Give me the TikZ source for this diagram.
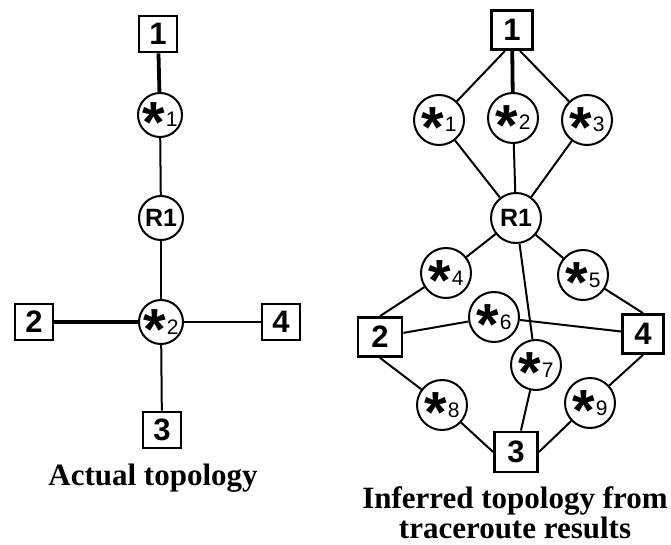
\documentclass[tikz,border=0pt]{standalone}
\usepackage{fontspec}
\setmainfont{Liberation Serif}
\newfontfamily\arialf{Liberation Sans}
\tikzset{
  box/.style={draw, line width=2.8pt, fill=white, inner sep=0pt, minimum width=38pt, minimum height=36pt, font=\arialf\bfseries\fontsize{31}{31}\selectfont},
  bigbox/.style={box, minimum width=41pt, minimum height=39pt},
  hop/.style={draw, circle, line width=2pt, fill=white, inner sep=0pt, minimum size=44pt},
  bighop/.style={hop, minimum size=50pt},
  link/.style={line width=2pt},
  thick link/.style={line width=3.8pt},
  mid link/.style={line width=2.8pt},
  caption/.style={font=\bfseries\fontsize{31}{30}\selectfont, align=center, inner sep=0pt}
}
\newcommand{\anon}[1]{\smash{\arialf\bfseries\fontsize{58}{58}\selectfont\raisebox{-0.48em}{*}}\kern1pt\smash{\raisebox{-12pt}{\arialf\fontsize{21}{21}\selectfont #1}}}
\newcommand{\rtr}{\arialf\bfseries\fontsize{25}{25}\selectfont R1}
\begin{document}
\begin{tikzpicture}[x=1pt,y=-1pt]
\useasboundingbox (0,0) rectangle (671,545);
% ---------- left: actual topology ----------
\node[hop] (s1L) at (160,115) {\anon{1}};
\node[hop] (r1L) at (161,218) {\rtr};
\node[hop] (s2L) at (161,322) {\anon{2}};
\node[box] (b1L) at (158,34) {1};
\node[box] (b2L) at (34,322) {2};
\node[box] (b4L) at (281,322) {4};
\node[box] (b3L) at (162,430) {3};
\draw[thick link] (b1L) -- (s1L);
\draw[link] (s1L) -- (r1L);
\draw[link] (r1L) -- (s2L);
\draw[thick link] (b2L) -- (s2L);
\draw[mid link] (s2L) -- (b4L);
\draw[link] (s2L) -- (b3L);
\node[caption, anchor=base] (capL) at (153,485) {Actual topology};
% ---------- right: inferred topology ----------
\node[bighop] (s1R) at (439,120) {\anon{1}};
\node[bighop] (s2R) at (513,118) {\anon{2}};
\node[bighop] (s3R) at (587,120) {\anon{3}};
\node[bighop] (r1R) at (516,218) {\rtr};
\node[bighop] (s4R) at (446,273) {\anon{4}};
\node[bighop] (s5R) at (583,275) {\anon{5}};
\node[bighop] (s6R) at (494,317) {\anon{6}};
\node[bighop] (s7R) at (536,365) {\anon{7}};
\node[bighop] (s8R) at (442,405) {\anon{8}};
\node[bighop] (s9R) at (590,403) {\anon{9}};
\node[bigbox] (b1R) at (512,30) {1};
\node[bigbox, minimum width=44pt] (b2R) at (380,337) {2};
\node[bigbox] (b4R) at (643,334) {4};
\node[bigbox, minimum width=43pt, minimum height=40pt] (b3R) at (516,452) {3};
\draw[link] ([xshift=-7pt]b1R.south) -- (s1R);
\draw[thick link] (b1R) -- (s2R);
\draw[link] ([xshift=8pt]b1R.south) -- (s3R);
\draw[link] (s1R) -- (r1R);
\draw[link] (s2R) -- (r1R);
\draw[link] (s3R) -- (r1R);
\draw[link] (r1R) -- (s4R);
\draw[link] (r1R) -- (s5R);
\draw[link] (r1R) -- (s7R);
\draw[link] (s4R) -- (b2R.north);
\draw[link] (s5R) -- (b4R.north);
\draw[link] (b2R) -- (s6R);
\draw[link] (s6R) -- (b4R);
\draw[link] (b2R.south) -- (s8R);
\draw[link] (s8R) -- (b3R.west);
\draw[link] (s7R) -- (b3R);
\draw[link] (b3R.east) -- (s9R);
\draw[link] (s9R) -- (b4R.south);
\node[caption, anchor=base] (capR) at (515,538) {Inferred topology from\\traceroute results};
\end{tikzpicture}
\end{document}
